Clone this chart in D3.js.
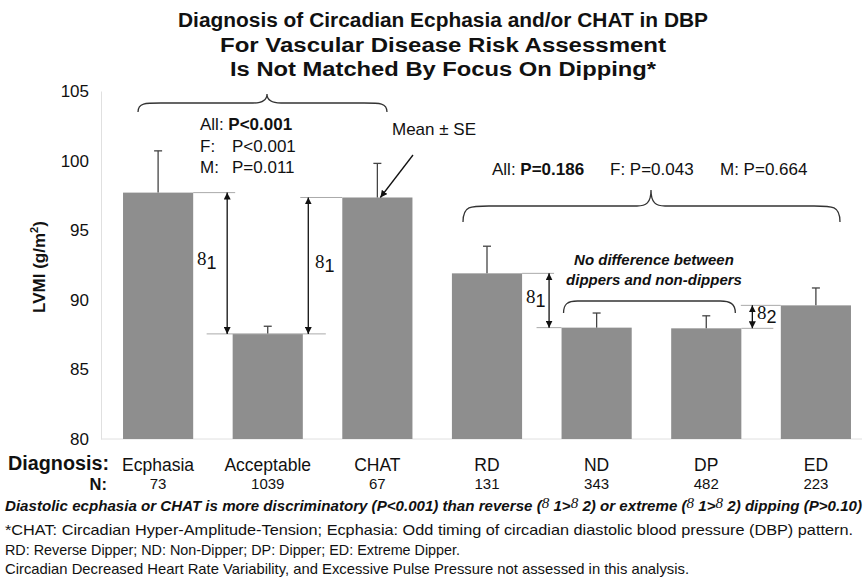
<!DOCTYPE html>
<html><head><meta charset="utf-8">
<script src="https://cdn.jsdelivr.net/npm/d3@7"></script>
<style>
body{margin:0;background:#fff;}
svg{display:block;}
text{fill:#111;}
</style></head>
<body>
<svg id="c" width="864" height="579"></svg>
<script>
const categories = ["Ecphasia","Acceptable","CHAT","RD","ND","DP","ED"];
const nValues = [73,1039,67,131,343,482,223];
const means = [97.7,87.55,97.35,91.9,88.0,87.95,89.6];
const se = [3.0,0.55,2.45,1.95,1.05,0.9,1.25];
const yTicks = [80,85,90,95,100,105];
const titleLines = ["Diagnosis of Circadian Ecphasia and/or CHAT in DBP","For Vascular Disease Risk Assessment","Is Not Matched By Focus On Dipping*"];
const footLines = ["*CHAT: Circadian Hyper-Amplitude-Tension; Ecphasia: Odd timing of circadian diastolic blood pressure (DBP) pattern.","RD: Reverse Dipper; ND: Non-Dipper; DP: Dipper; ED: Extreme Dipper.","Circadian Decreased Heart Rate Variability, and Excessive Pulse Pressure not assessed in this analysis."];

const SANS = "'Liberation Sans',Arial,sans-serif";
const SERIF = "'Liberation Serif','Times New Roman',serif";

const svg = d3.select("#c");
const y = d3.scaleLinear().domain([80,105]).range([439,91]);
const x = d3.scaleBand().domain(categories).range([100,874]).paddingInner(0.36).paddingOuter(0.21);
const bw = x.bandwidth();
const cx = c => x(c)+bw/2;

const defs = svg.append("defs");
defs.append("marker").attr("id","ah").attr("viewBox","0 0 10 10").attr("refX",10).attr("refY",5)
  .attr("markerWidth",7).attr("markerHeight",7).attr("orient","auto-start-reverse").attr("markerUnits","userSpaceOnUse")
  .append("path").attr("d","M0,0 L10,5 L0,10 z").attr("fill","#111");

// title
const titleW = [530,446,426];
titleLines.forEach((t,i)=>{
  svg.append("text").attr("x",443).attr("y",27+i*24.5).attr("text-anchor","middle")
    .attr("font-family",SANS).attr("font-weight","bold").attr("font-size",19.5)
    .attr("textLength",titleW[i]).attr("lengthAdjust","spacingAndGlyphs").text(t);
});

// axes
const yAxis = svg.append("g").attr("transform","translate(101,0)")
  .call(d3.axisLeft(y).tickValues(yTicks).tickSize(0).tickPadding(12));
yAxis.select(".domain").attr("stroke","#e0e0e0");
yAxis.selectAll("text").attr("font-family",SANS).attr("font-size",17).attr("fill","#222");

const xAxis = svg.append("g").attr("transform","translate(0,439)")
  .call(d3.axisBottom(x).tickSize(0).tickFormat(""));
xAxis.select(".domain").attr("stroke","#e0e0e0").attr("d","M101,0H862");

// y label
svg.append("text").attr("transform","translate(45,267) rotate(-90)").attr("text-anchor","middle")
  .attr("font-family",SANS).attr("font-weight","bold").attr("font-size",17)
  .call(t=>{t.append("tspan").text("LVMI (g/m");t.append("tspan").attr("font-size",11).attr("dy",-7).text("2");t.append("tspan").attr("dy",7).text(")");});

// bars
svg.append("g").selectAll("rect").data(categories).join("rect")
  .attr("x",d=>x(d)).attr("width",bw).attr("y",(d,i)=>y(means[i])).attr("height",(d,i)=>y(80)-y(means[i]))
  .attr("fill","#8e8e8e");

// error bars (upper)
const eb = svg.append("g").attr("stroke","#444").attr("stroke-width",1.3);
categories.forEach((c,i)=>{
  eb.append("line").attr("x1",cx(c)).attr("x2",cx(c)).attr("y1",y(means[i])).attr("y2",y(means[i]+se[i]));
  eb.append("line").attr("x1",cx(c)-4).attr("x2",cx(c)+4).attr("y1",y(means[i]+se[i])).attr("y2",y(means[i]+se[i]));
});

// reference lines
const ref = svg.append("g").attr("stroke","#aaa").attr("stroke-width",1);
function hline(x1,x2,yy){ref.append("line").attr("x1",x1).attr("x2",x2).attr("y1",yy).attr("y2",yy);}
const yE=y(means[0]), yA=y(means[1]), yC=y(means[2]), yR=y(means[3]), yN=y(means[4]), yD=y(means[5]), yX=y(means[6]);
hline(x("Ecphasia")+bw, x("Ecphasia")+bw+42, yE);
hline(x("Acceptable")-26, x("Acceptable")+bw+23, yA);
hline(x("CHAT")-42, x("CHAT"), yC);
hline(x("RD")+bw, x("RD")+bw+32, yR);
hline(x("ND")-25, x("ND"), yN);
hline(x("DP")+bw, x("DP")+bw+32, yD);
hline(x("ED")-40, x("ED"), yX);

// double arrows
const ar = svg.append("g").attr("stroke","#111").attr("stroke-width",1.3);
function darrow(xx,y1,y2){ar.append("line").attr("x1",xx).attr("x2",xx).attr("y1",y1).attr("y2",y2)
  .attr("marker-start","url(#ah)").attr("marker-end","url(#ah)");}
darrow(x("Ecphasia")+bw+34, yE, yA);
darrow(x("CHAT")-34, yC, yA);
darrow(x("RD")+bw+27, yR, yN);
darrow(x("DP")+bw+11, yX, yD);

// delta labels
function delta(xx,yy,sub){
  const t = svg.append("text").attr("x",xx).attr("y",yy);
  t.append("tspan").attr("font-family",SERIF).attr("font-size",19).text("8");
  t.append("tspan").attr("font-family",SANS).attr("font-size",18).attr("dy",4).text(sub);
}
delta(197,(yE+yA)/2+2,"1");
delta(315,(yC+yA)/2+2,"1");
delta(526,(yR+yN)/2+3,"1");
delta(757,(yX+yD)/2+2,"2");

// braces
const br = svg.append("g").attr("fill","none").attr("stroke","#333").attr("stroke-width",1.3);
function brace(x0,x1,xt,yEnd,yH,yT){
  br.append("path").attr("d",
    `M${x0},${yEnd} C${x0},${yH-1} ${x0+8},${yH} ${x0+30},${yH} L${xt-14},${yH} C${xt-5},${yH} ${xt},${yH-3} ${xt},${yT}`+
    ` C${xt},${yH-3} ${xt+5},${yH} ${xt+14},${yH} L${x1-30},${yH} C${x1-8},${yH} ${x1},${yH-1} ${x1},${yEnd}`);
}
brace(138,387,267,112,103,94);
brace(463,840,651,222,206,190);
br.append("path").attr("d",`M${x("ND")+2},313 C${x("ND")+2},304 ${x("ND")+6},301 ${x("ND")+16},301 L${x("DP")+bw-21},301 C${x("DP")+bw-11},301 ${x("DP")+bw-6},304 ${x("DP")+bw-6},313`);

// p-value texts
const ptxt = svg.append("g").attr("font-family",SANS).attr("font-size",17);
function pline(xx,yy,lab,val,bold,xv){
  const t = ptxt.append("text").attr("x",xx).attr("y",yy);
  t.append("tspan").text(lab);
  const v = t.append("tspan").attr("font-weight",bold?"bold":"normal").text(val);
  if(xv!==undefined) v.attr("x",xv);
}
pline(200,130,"All: ","P<0.001",true);
pline(200,152,"F:","P<0.001",false,232);
pline(200,173,"M:","P=0.011",false,232);
pline(492,175,"All: ","P=0.186",true);
pline(610,175,"F: ","P=0.043",false);
pline(720,175,"M: ","P=0.664",false);

svg.append("text").attr("x",392).attr("y",135).attr("font-family",SANS).attr("font-size",17).text("Mean ± SE");
svg.append("line").attr("x1",413).attr("y1",155).attr("x2",cx("CHAT")+3).attr("y2",yC)
  .attr("stroke","#111").attr("stroke-width",1.3).attr("marker-end","url(#ah)");

svg.append("text").attr("x",654).attr("y",265).attr("text-anchor","middle").attr("font-family",SANS)
  .attr("font-size",15).attr("font-weight","bold").attr("font-style","italic").text("No difference between");
svg.append("text").attr("x",654).attr("y",285).attr("text-anchor","middle").attr("font-family",SANS)
  .attr("font-size",15).attr("font-weight","bold").attr("font-style","italic").text("dippers and non-dippers");

// category labels
svg.append("text").attr("x",8).attr("y",470).attr("font-family",SANS).attr("font-weight","bold")
  .attr("font-size",20).attr("textLength",101).attr("lengthAdjust","spacingAndGlyphs").text("Diagnosis:");
svg.append("text").attr("x",107).attr("y",490).attr("text-anchor","end").attr("font-family",SANS).attr("font-weight","bold")
  .attr("font-size",16.5).text("N:");
svg.append("g").selectAll("text").data(categories).join("text")
  .attr("x",d=>cx(d)).attr("y",471).attr("text-anchor","middle").attr("font-family",SANS).attr("font-size",17.5)
  .text(d=>d);
svg.append("g").selectAll("text").data(categories).join("text")
  .attr("x",d=>cx(d)).attr("y",489).attr("text-anchor","middle").attr("font-family",SANS).attr("font-size",15)
  .text((d,i)=>nValues[i]);

// italic line
const it = svg.append("text").attr("x",5).attr("y",511).attr("font-family",SANS).attr("font-size",14.5)
  .attr("font-weight","bold").attr("font-style","italic").attr("textLength",857).attr("lengthAdjust","spacingAndGlyphs");
it.append("tspan").text("Diastolic ecphasia or CHAT is more discriminatory (P<0.001) than reverse (");
it.append("tspan").attr("font-family",SERIF).attr("font-weight","normal").attr("dy",-3).text("8");
it.append("tspan").attr("dy",3).text(" 1>");
it.append("tspan").attr("font-family",SERIF).attr("font-weight","normal").attr("dy",-3).text("8");
it.append("tspan").attr("dy",3).text(" 2) or extreme (");
it.append("tspan").attr("font-family",SERIF).attr("font-weight","normal").attr("dy",-3).text("8");
it.append("tspan").attr("dy",3).text(" 1>");
it.append("tspan").attr("font-family",SERIF).attr("font-weight","normal").attr("dy",-3).text("8");
it.append("tspan").attr("dy",3).text(" 2) dipping (P>0.10)");

const footW = [848,455,684];
const footY = [535,555,574];
footLines.forEach((t,i)=>{
  svg.append("text").attr("x",5).attr("y",footY[i]).attr("font-family",SANS).attr("font-size",14.5)
    .attr("textLength",footW[i]).attr("lengthAdjust","spacingAndGlyphs").text(t);
});
</script>
</body></html>
